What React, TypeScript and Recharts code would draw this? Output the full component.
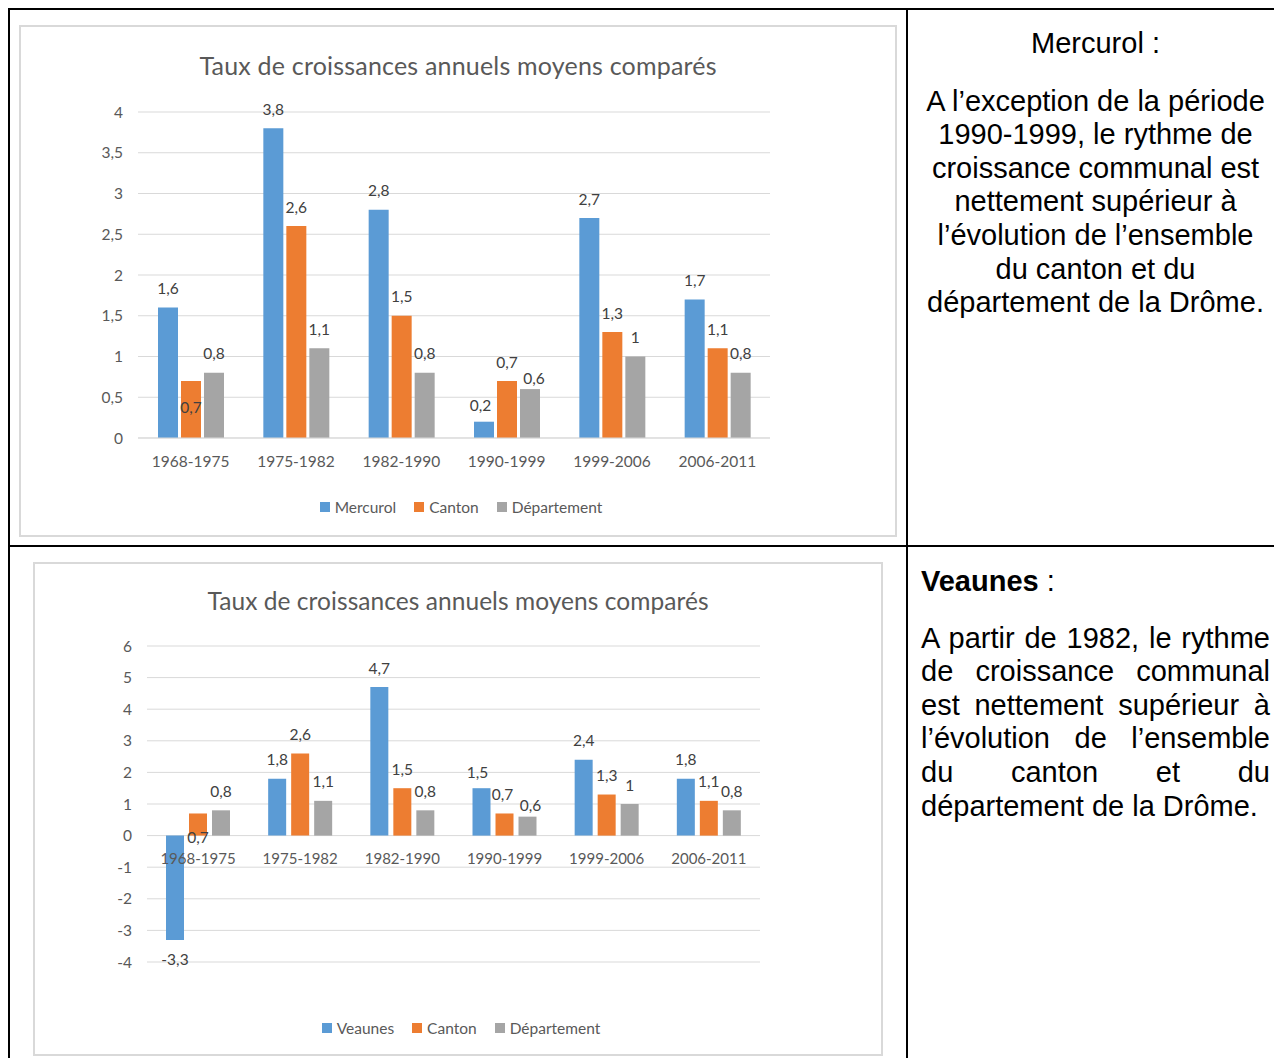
import React from 'react';
import { BarChart, Bar, XAxis, YAxis, CartesianGrid, LabelList, Legend } from 'recharts';

// periods and annual growth rates (%)
const periods = ['1968-1975', '1975-1982', '1982-1990', '1990-1999', '1999-2006', '2006-2011'];
const mercurolRates = [1.6, 3.8, 2.8, 0.2, 2.7, 1.7];
const veaunesRates = [-3.3, 1.8, 4.7, 1.5, 2.4, 1.8];
const cantonRates = [0.7, 2.6, 1.5, 0.7, 1.3, 1.1];
const departementRates = [0.8, 1.1, 0.8, 0.6, 1, 0.8];
const mercurolTicks = [0, 0.5, 1, 1.5, 2, 2.5, 3, 3.5, 4];
const veaunesTicks = [-4, -3, -2, -1, 0, 1, 2, 3, 4, 5, 6];

const chartTitle = 'Taux de croissances annuels moyens comparés';
const seriesOrder = ['commune', 'canton', 'departement'];

const mercurolText = [
  'A l\u2019exception de la période',
  '1990-1999, le rythme de',
  'croissance communal est',
  'nettement supérieur à',
  'l\u2019évolution de l\u2019ensemble',
  'du canton et du',
  'département de la Drôme.',
];
const veaunesText = [
  'A partir de 1982, le rythme',
  'de croissance communal',
  'est nettement supérieur à',
  'l\u2019évolution de l\u2019ensemble',
  'du canton et du',
  'département de la Drôme.',
];

const chartFont = 'Lato, "Open Sans", sans-serif';
const docFont = '"Liberation Sans", Arial, sans-serif';
const colors = ['#5b9bd5', '#ed7d31', '#a5a5a5'];

const fmt = (v: number | string) => String(v).replace('.', ',');

type Nudge = { dx?: number; dy?: number };

// data label above bar (below for negatives), with Excel's little manual shifts
const valueLabel = (nudges: Record<number, Nudge>) => (props: any) => {
  const { x, y, width, height, value, index } = props;
  const v = Number(value);
  const top = Math.min(y, y + height);
  const bottom = Math.max(y, y + height);
  const n = nudges[index] || {};
  const centre = v < 0 ? bottom + 20 : top - 19;
  return (
    <text
      x={x + width / 2 + (n.dx || 0)}
      y={centre + (n.dy || 0) + 5.6}
      textAnchor="middle"
      fill="#404040"
      fontSize={15.5}
      fontFamily={chartFont}
    >
      {fmt(v)}
    </text>
  );
};

// category name drawn at the zero line (for the chart with negatives)
const periodLabel = (props: any) => {
  const { x, y, width, height, value } = props;
  const base = Math.max(y, y + height);
  return (
    <text x={x + width / 2} y={base + 28} textAnchor="middle" fill="#595959" fontSize={15} fontFamily={chartFont}>
      {value}
    </text>
  );
};

const legendContent = (props: any) => {
  const items = [...(props.payload || [])].sort(
    (a: any, b: any) => seriesOrder.indexOf(a.dataKey) - seriesOrder.indexOf(b.dataKey)
  );
  return (
    <div
      style={{
        display: 'flex',
        justifyContent: 'center',
        fontFamily: chartFont,
        fontSize: 15.5,
        color: '#595959',
        lineHeight: '20px',
      }}
    >
      {items.map((p: any, i: number) => (
        <span key={i} style={{ display: 'flex', alignItems: 'center', marginLeft: i ? 18 : 0 }}>
          <span style={{ width: 10, height: 10, background: p.color, marginRight: 5 }} />
          {p.value}
        </span>
      ))}
    </div>
  );
};

interface ChartProps {
  box: { left: number; top: number; width: number; height: number };
  margin: { top: number; right: number; bottom: number; left: number };
  communeName: string;
  communeRates: number[];
  ticks: number[];
  barSize: number;
  barGap: number;
  titleSize: number;
  titleLength: number;
  titleBaseline: number;
  legendTop: number;
  legendShift: number;
  axisAtZero: boolean;
  nudges: Record<string, Record<number, Nudge>>;
}

const GrowthChart = (p: ChartProps) => {
  const data = periods.map((period, i) => ({
    period,
    commune: p.communeRates[i],
    canton: cantonRates[i],
    departement: departementRates[i],
  }));
  const tickStyle = { fill: '#595959', fontSize: 15.5, fontFamily: chartFont };
  return (
    <div
      style={{
        position: 'absolute',
        left: p.box.left,
        top: p.box.top,
        width: p.box.width,
        height: p.box.height,
        background: '#fff',
        boxShadow: 'inset 0 0 0 2px #d9d9d9',
      }}
    >
      <BarChart
        width={p.box.width}
        height={p.box.height}
        data={data}
        margin={p.margin}
        barSize={p.barSize}
        barGap={p.barGap}
      >
        <CartesianGrid vertical={false} stroke="#d9d9d9" />
        {p.axisAtZero ? (
          <XAxis dataKey="period" hide height={0} />
        ) : (
          <XAxis
            dataKey="period"
            interval={0}
            height={30}
            tickLine={false}
            tickSize={0}
            tickMargin={17.5}
            axisLine={{ stroke: '#d9d9d9' }}
            tick={tickStyle}
          />
        )}
        <YAxis
          type="number"
          domain={[p.ticks[0], p.ticks[p.ticks.length - 1]]}
          ticks={p.ticks}
          interval={0}
          width={60}
          axisLine={false}
          tickLine={false}
          tickSize={0}
          tickMargin={15}
          tickFormatter={fmt}
          tick={tickStyle}
        />
        <Legend
          layout="horizontal"
          verticalAlign="middle"
          align="center"
          itemSorter={null as any}
          content={legendContent}
          wrapperStyle={{ top: p.legendTop, left: p.legendShift, width: p.box.width }}
        />
        <Bar dataKey="commune" name={p.communeName} fill={colors[0]} isAnimationActive={false}>
          <LabelList dataKey="commune" content={valueLabel(p.nudges.commune || {})} />
        </Bar>
        <Bar dataKey="canton" name="Canton" fill={colors[1]} isAnimationActive={false}>
          <LabelList dataKey="canton" content={valueLabel(p.nudges.canton || {})} />
          {p.axisAtZero && <LabelList dataKey="period" content={periodLabel} />}
        </Bar>
        <Bar dataKey="departement" name="Département" fill={colors[2]} isAnimationActive={false}>
          <LabelList dataKey="departement" content={valueLabel(p.nudges.departement || {})} />
        </Bar>
      </BarChart>
      <svg width={p.box.width} height={70} style={{ position: 'absolute', left: 0, top: 0 }}>
        <text
          x={p.box.width / 2}
          y={p.titleBaseline}
          textAnchor="middle"
          fontSize={p.titleSize}
          fontFamily={chartFont}
          fill="#595959"
          textLength={p.titleLength}
          lengthAdjust="spacing"
        >
          {chartTitle}
        </text>
      </svg>
    </div>
  );
};

export default function App() {
  const textStyle: React.CSSProperties = {
    position: 'absolute',
    left: 921,
    width: 349,
    fontFamily: docFont,
    fontSize: 29,
    lineHeight: '33.6px',
    color: '#000',
  };
  return (
    <div style={{ position: 'relative', width: 1274, height: 1058, overflow: 'hidden', background: '#fff' }}>
      <style>{'body{margin:0}'}</style>
      {/* table frame */}
      <div style={{ position: 'absolute', left: 8, top: 8, width: 1290, height: 1100, border: '2px solid #000' }} />
      <div style={{ position: 'absolute', left: 906, top: 8, width: 2, height: 1100, background: '#000' }} />
      <div style={{ position: 'absolute', left: 8, top: 545, width: 1300, height: 2, background: '#000' }} />

      <GrowthChart
        box={{ left: 19, top: 25, width: 878, height: 512 }}
        margin={{ top: 87, right: 127, bottom: 69, left: 59 }}
        communeName="Mercurol"
        communeRates={mercurolRates}
        ticks={mercurolTicks}
        barSize={20}
        barGap={3}
        titleSize={25}
        titleLength={517}
        titleBaseline={50}
        legendTop={472}
        legendShift={3}
        axisAtZero={false}
        nudges={{
          commune: { 3: { dx: -3.5, dy: 3 } },
          canton: { 0: { dy: 45 } },
          departement: { 3: { dx: 4, dy: 8 } },
        }}
      />

      <GrowthChart
        box={{ left: 33, top: 562, width: 850, height: 494 }}
        margin={{ top: 84, right: 123, bottom: 94, left: 54 }}
        communeName="Veaunes"
        communeRates={veaunesRates}
        ticks={veaunesTicks}
        barSize={18}
        barGap={5}
        titleSize={24.5}
        titleLength={501}
        titleBaseline={48}
        legendTop={456}
        legendShift={3}
        axisAtZero={true}
        nudges={{
          commune: { 3: { dx: -4, dy: 3 } },
          canton: { 0: { dy: 43 }, 3: { dx: -2 } },
          departement: { 3: { dx: 3, dy: 8 } },
        }}
      />

      <div style={{ ...textStyle, top: 26.6, textAlign: 'center' }}>Mercurol :</div>
      <div style={{ ...textStyle, top: 84.6, textAlign: 'center' }}>
        {mercurolText.map((l, i) => (
          <div key={i}>{l}</div>
        ))}
      </div>

      <div style={{ ...textStyle, top: 564.6 }}>
        <b>Veaunes</b> :
      </div>
      <div style={{ ...textStyle, top: 621.6 }}>
        {veaunesText.map((l, i) => (
          <div
            key={i}
            style={{
              textAlign: 'justify',
              textAlignLast: i === veaunesText.length - 1 ? 'left' : 'justify',
              whiteSpace: 'nowrap',
            }}
          >
            {l}
          </div>
        ))}
      </div>
    </div>
  );
}
